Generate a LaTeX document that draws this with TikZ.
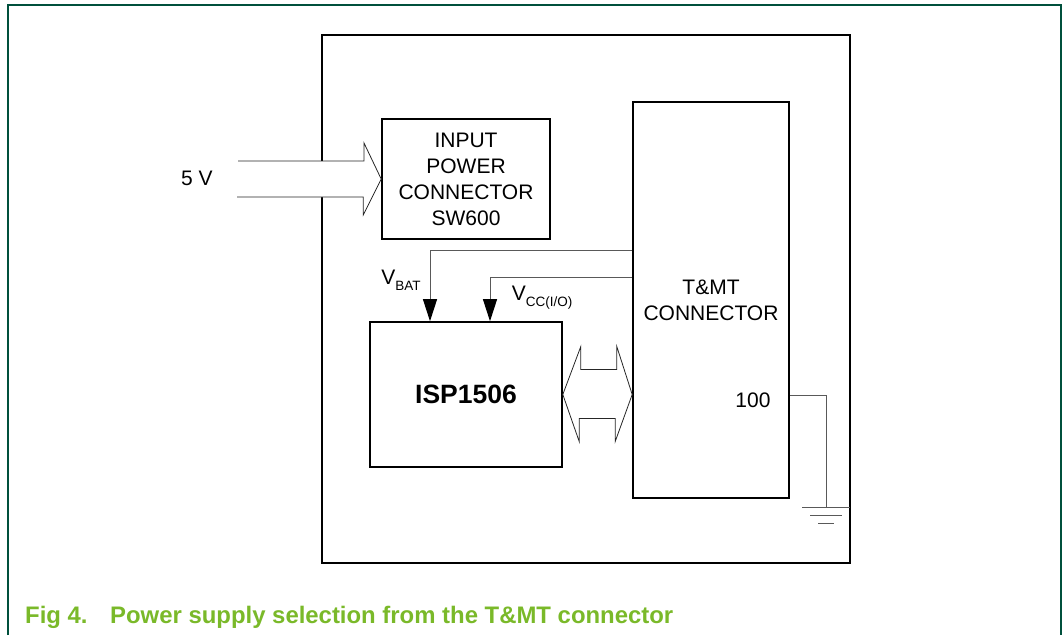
\documentclass[tikz,border=0pt]{standalone}
\usepackage{fontspec}
\setmainfont{Liberation Sans}
\usetikzlibrary{arrows.meta}
\definecolor{framegreen}{RGB}{0,80,60}
\definecolor{nxpgreen}{RGB}{122,185,41}

\begin{document}
\begin{tikzpicture}[x=1pt, y=-1pt,
  box/.style={draw, line width=1.6pt, inner sep=0pt, align=center, font=\fontsize{21}{26}\selectfont},
  wire/.style={draw=black!65, line width=1pt},
  bigarrow/.style={draw=black!85, fill=white, line width=0.8pt, line join=miter},
  lbl/.style={inner sep=0pt, font=\fontsize{21}{26}\selectfont},
  supply/.style={wire, -{Triangle[length=22pt, width=14pt, color=black]}}]
\useasboundingbox (0,0) rectangle (1063,635);
% page frame
\draw[framegreen, line width=1.5pt] (8,635) -- (8,5) -- (1061,5) -- (1061,635);
% board outline
\node[box, minimum width=528pt, minimum height=528pt] (board) at (586,299) {};
% blocks
\node[box, minimum width=168pt, minimum height=120pt] (inpwr) at (466,179) {INPUT\\POWER\\CONNECTOR\\SW600};
\node[box, minimum width=156pt, minimum height=396pt] (tmt) at (711,300) {T\&MT\\CONNECTOR};
\node[box, minimum width=192pt, minimum height=145pt, font=\fontsize{26.5}{30}\selectfont\bfseries] (isp) at (466,394.5) {ISP1506};
% 5 V input
\coordinate (vin) at (238,161);
\draw[bigarrow] (vin) -- ++(126,0) -- ++(0,-18) -- (inpwr.west) -- ++(-18,36) -- ++(0,-18) -- ++(-126,0);
\node[lbl] (l5v) at (197,178) {5 V};
% supplies from T&MT connector
\draw[supply] ([yshift=50pt]tmt.west) -| ([xshift=-36pt]isp.north);
\draw[supply] ([yshift=23pt]tmt.west) -| ([xshift=24pt]isp.north);
\node[lbl] (lvbat) at (401,280) {V\raisebox{-6pt}{\fontsize{13.5}{13.5}\selectfont BAT}};
\node[lbl] (lvcc) at (542,298) {V\raisebox{-6pt}{\fontsize{13.5}{13.5}\selectfont CC(I/O)}};
% data bus
\draw[bigarrow] (isp.east) -- ++(18,-48) -- ++(0,23) -- ++(36,0) -- ++(0,-23) -- (isp.east -| tmt.west)
  -- ++(-17,47) -- ++(0,-23) -- ++(-36,0) -- ++(0,23) -- cycle;
% pin 100 to ground
\coordinate (gnd) at (826,507);
\draw[wire] ([yshift=-95pt]tmt.east) -| (gnd);
\draw[wire] ([xshift=-24pt]gnd) -- ([xshift=24pt]gnd)
  ([shift={(-16,8)}]gnd) -- ([shift={(16,8)}]gnd)
  ([shift={(-8,16)}]gnd) -- ([shift={(8,16)}]gnd);
\node[lbl] (l100) at (753,400) {100};
% caption
\node[anchor=base west, inner sep=0pt, text=nxpgreen, font=\fontsize{23.9}{28}\selectfont\bfseries] (caption) at (25,623)
  {\makebox[85pt][l]{Fig 4.}Power supply selection from the T\&MT connector};
\end{tikzpicture}
\end{document}
